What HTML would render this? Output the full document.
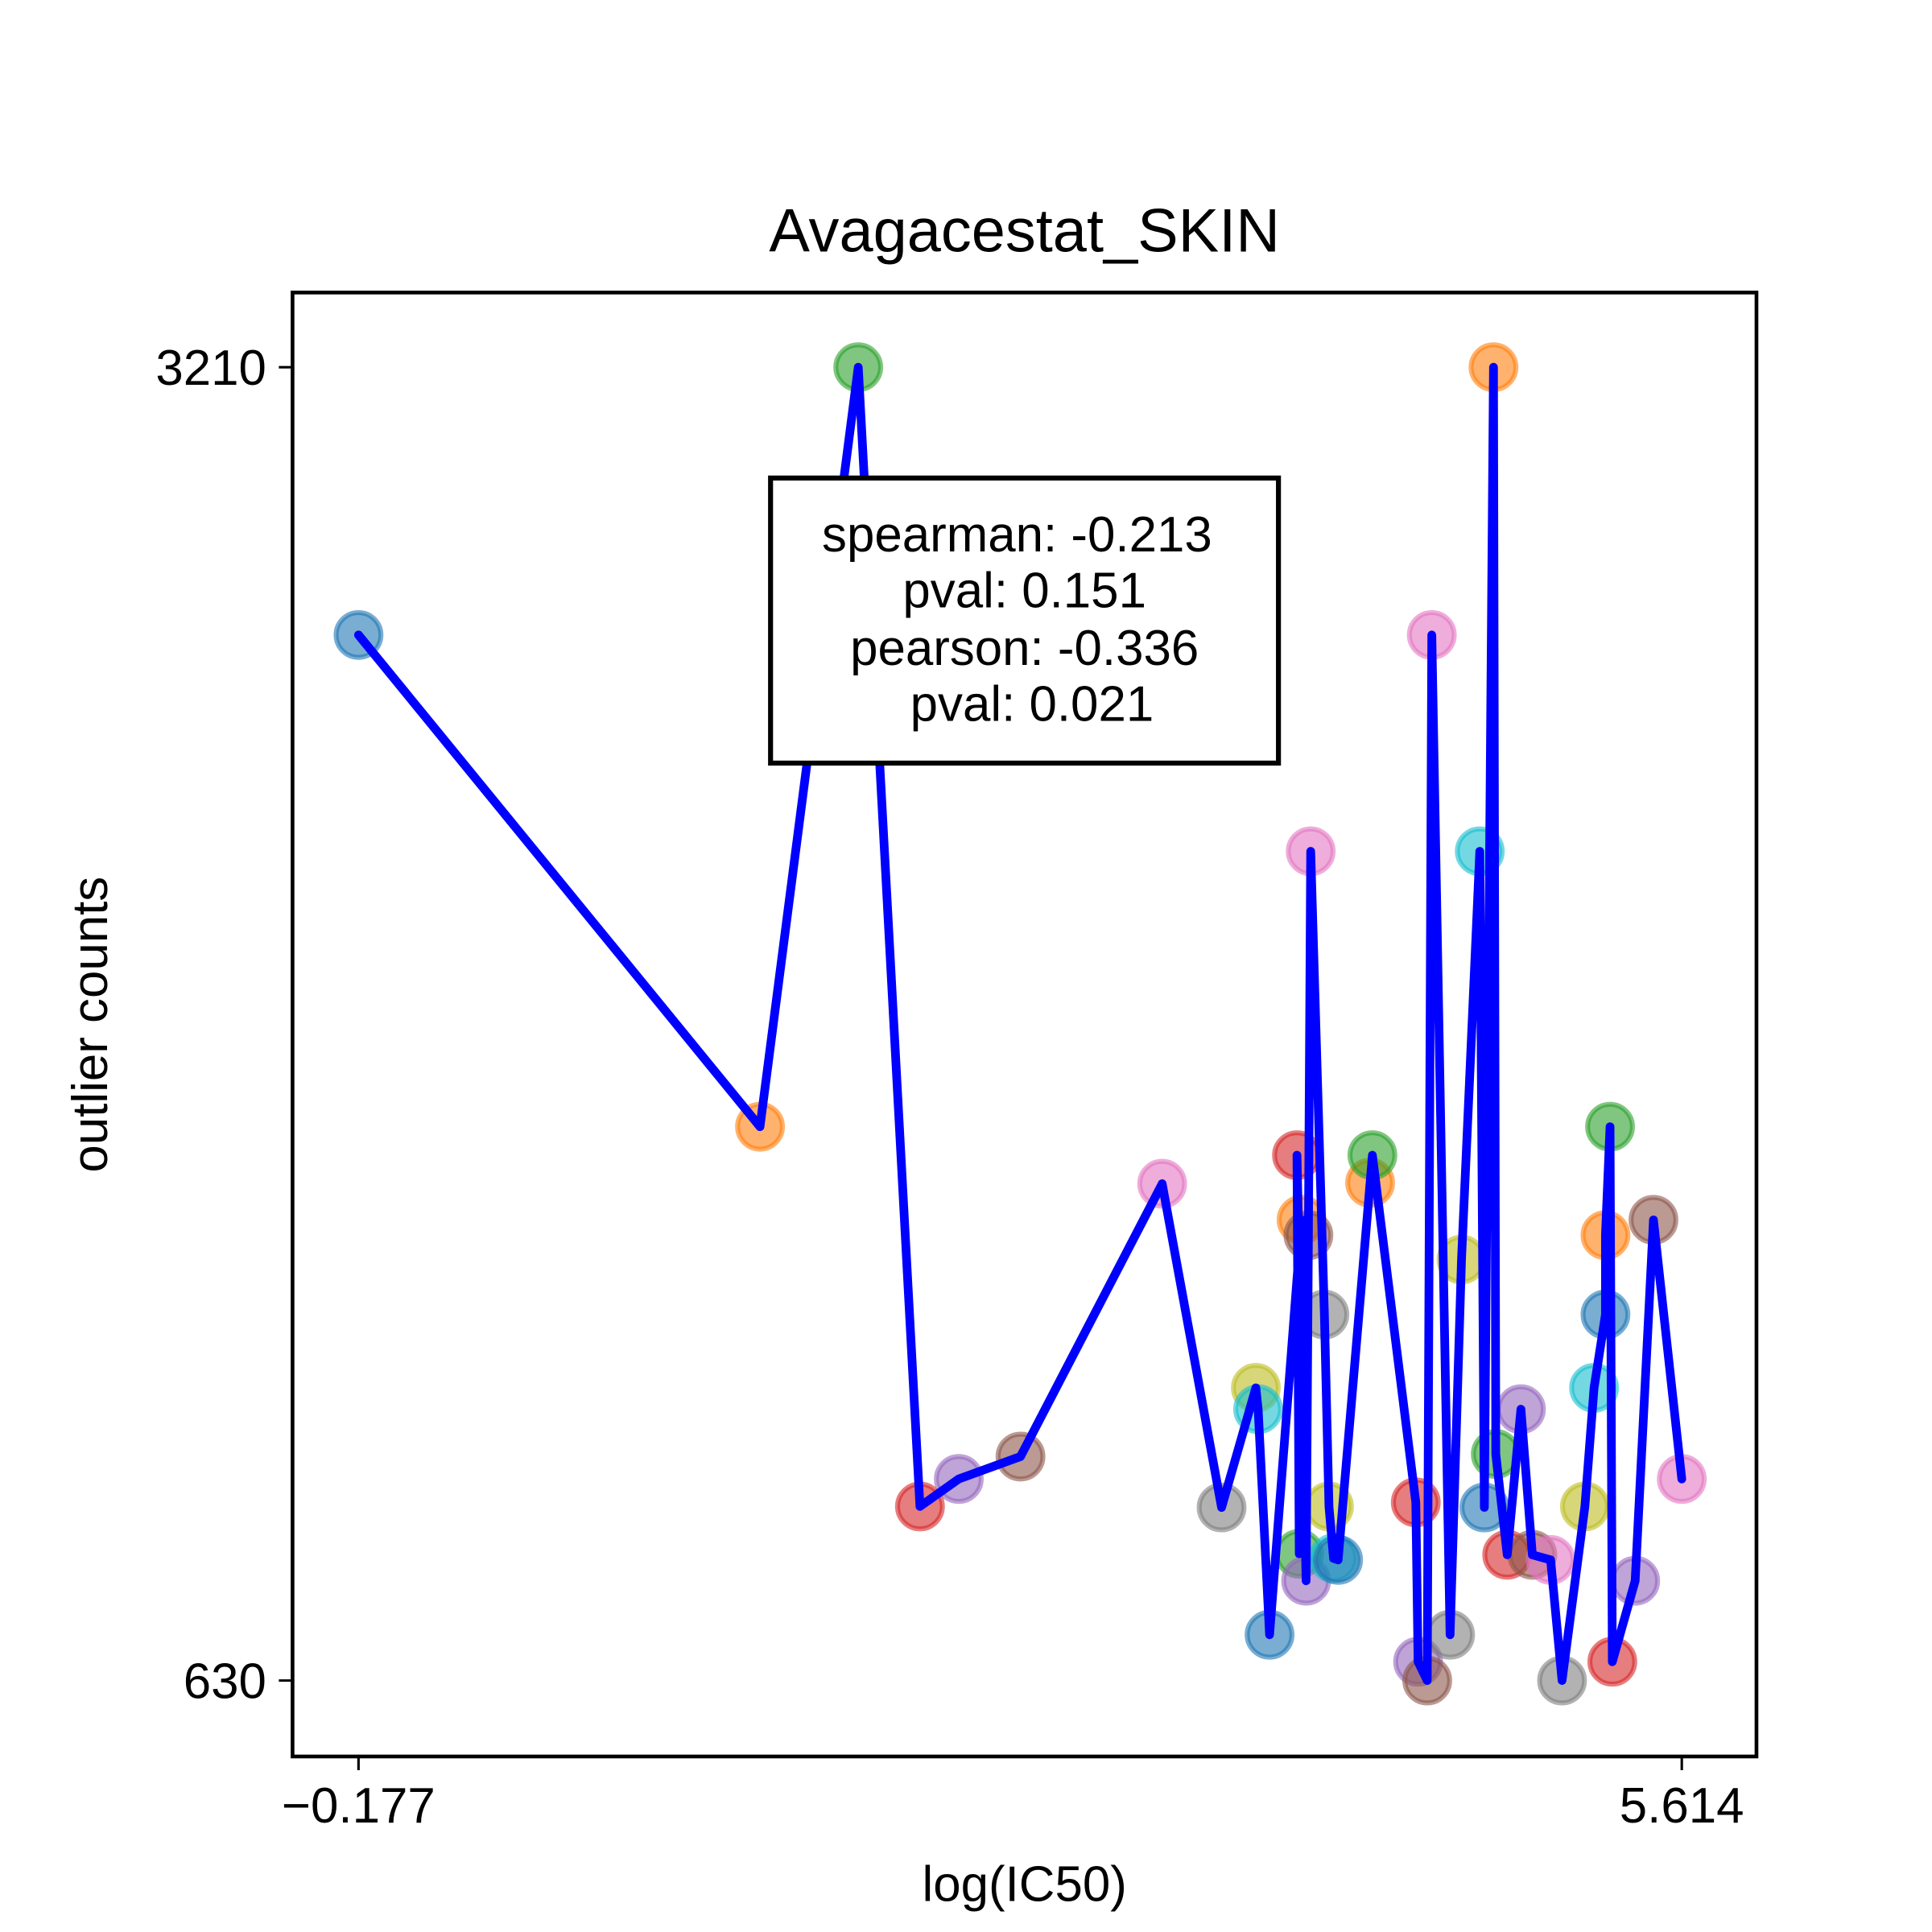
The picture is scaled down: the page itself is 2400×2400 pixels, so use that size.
<!DOCTYPE html>
<html><head><meta charset="utf-8"><style>
html,body{margin:0;padding:0;background:#fff}
svg{display:block}
text{font-family:"Liberation Sans",Arial,sans-serif;fill:#000}
</style></head><body>
<svg id="chart" width="2400" height="2400" viewBox="0 0 1552 1552" xmlns="http://www.w3.org/2000/svg">
<rect x="0" y="0" width="1552" height="1552" fill="#fff"/>
<text x="823" y="202" font-size="49" text-anchor="middle">Avagacestat_SKIN</text>
<g id="marks"></g>
<rect x="235" y="235" width="1176" height="1176" fill="none" stroke="#000" stroke-width="3"/>
<g id="axes"></g>
<text x="823" y="1527" font-size="40" text-anchor="middle">log(IC50)</text>
<text transform="translate(86 823) rotate(-90)" font-size="40" text-anchor="middle">outlier counts</text>
<g>
<rect x="619" y="384" width="408" height="229" fill="#fff" stroke="#000" stroke-width="4"/>
<text x="817" y="443" font-size="40" text-anchor="middle">spearman: -0.213</text>
<text x="823" y="488" font-size="40" text-anchor="middle">pval: 0.151</text>
<text x="823" y="534" font-size="40" text-anchor="middle">pearson: -0.336</text>
<text x="829" y="579" font-size="40" text-anchor="middle">pval: 0.021</text>
</g>
</svg>
<script>
const xValues = [-0.177,1.58,2.01,2.28,2.45,2.72,3.34,3.60,3.75,3.76,3.81,3.95,3.94,3.93,3.97,3.98,3.99,4.05,4.07,4.09,4.11,4.25,4.26,4.45,4.46,4.50,4.52,4.60,4.65,4.73,4.75,4.79,4.80,4.85,4.91,4.96,5.04,5.09,5.19,5.23,5.28,5.28,5.30,5.31,5.41,5.49,5.614];
const yValues = [2684,1718,3210,972,1026,1070,1606,970,1205,1163,720,1535,879,1662,826,1505,2259,1349,972,870,867,1608,1662,980,667,630,2684,720,1457,2259,970,3210,1075,877,1163,877,867,630,972,1205,1349,1505,1718,667,826,1535,1026];
const xTicks = [-0.177, 5.614];
const xTickLabels = ["\u22120.177", "5.614"];
const yTicks = [630, 3210];
const yTickLabels = ["630", "3210"];
const palette = ["#1f77b4","#ff7f0e","#2ca02c","#d62728","#9467bd","#8c564b","#e377c2","#7f7f7f","#bcbd22","#17becf"];
const NS = "http://www.w3.org/2000/svg";
function sx(v){ return 288 + (v - (-0.177)) / (5.614 - (-0.177)) * (1351 - 288); }
function sy(v){ return 1350 - (v - 630) / (3210 - 630) * (1350 - 295); }
const marks = document.getElementById('marks');
for (let i = 0; i < xValues.length; i++) {
  const c = document.createElementNS(NS, 'circle');
  c.setAttribute('cx', sx(xValues[i]));
  c.setAttribute('cy', sy(yValues[i]));
  c.setAttribute('r', 18);
  c.setAttribute('fill', palette[i % 10]);
  c.setAttribute('fill-opacity', 0.6);
  c.setAttribute('stroke', palette[i % 10]);
  c.setAttribute('stroke-opacity', 0.6);
  c.setAttribute('stroke-width', 4);
  
  
  marks.appendChild(c);
}
const line = document.createElementNS(NS, 'polyline');
line.setAttribute('points', xValues.map((x, i) => sx(x) + ',' + sy(yValues[i])).join(' '));
line.setAttribute('fill', 'none');
line.setAttribute('stroke', '#0000ff');
line.setAttribute('stroke-width', 7);
line.setAttribute('stroke-linejoin', 'round');
line.setAttribute('stroke-linecap', 'round');


marks.appendChild(line);
const axes = document.getElementById('axes');
xTicks.forEach((t, i) => {
  const l = document.createElementNS(NS, 'line');
  l.setAttribute('x1', sx(t)); l.setAttribute('x2', sx(t));
  l.setAttribute('y1', 1411); l.setAttribute('y2', 1422);
  l.setAttribute('stroke', '#000'); l.setAttribute('stroke-width', 2);
  
  
  axes.appendChild(l);
  const tx = document.createElementNS(NS, 'text');
  tx.setAttribute('x', sx(t)); tx.setAttribute('y', 1464);
  tx.setAttribute('font-size', 40); tx.setAttribute('text-anchor', 'middle');
  tx.textContent = xTickLabels[i];
  
  
  axes.appendChild(tx);
});
yTicks.forEach((t, i) => {
  const l = document.createElementNS(NS, 'line');
  l.setAttribute('x1', 224); l.setAttribute('x2', 235);
  l.setAttribute('y1', sy(t)); l.setAttribute('y2', sy(t));
  l.setAttribute('stroke', '#000'); l.setAttribute('stroke-width', 2);
  
  
  axes.appendChild(l);
  const tx = document.createElementNS(NS, 'text');
  tx.setAttribute('x', 214); tx.setAttribute('y', sy(t) + 14);
  tx.setAttribute('font-size', 40); tx.setAttribute('text-anchor', 'end');
  tx.textContent = yTickLabels[i];
  
  
  axes.appendChild(tx);
});
</script>
</body></html>
